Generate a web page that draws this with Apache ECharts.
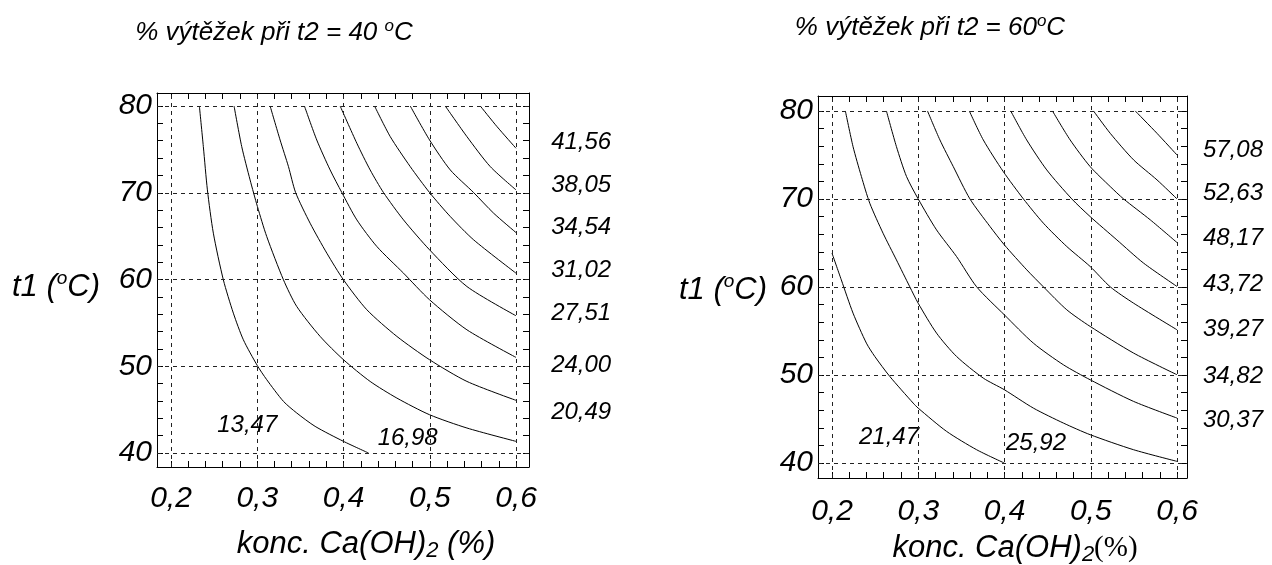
<!DOCTYPE html>
<html>
<head>
<meta charset="utf-8">
<script src="https://cdn.jsdelivr.net/npm/echarts@6.0.0/dist/echarts.min.js"></script>
<style>
html,body{margin:0;padding:0;background:#fff;}
#c{width:1272px;height:565px;}
</style>
</head>
<body>
<div id="c"></div>
<script>
// ---------- DATA ----------
const xTicks = [0.2, 0.3, 0.4, 0.5, 0.6];
const yTicks = [40, 50, 60, 70, 80];
const xMinor = [0.2,0.22,0.24,0.26,0.28,0.3,0.32,0.34,0.36,0.38,0.4,0.42,0.44,0.46,0.48,0.5,0.52,0.54,0.56,0.58,0.6];
const yMinor = [40,42,44,46,48,50,52,54,56,58,60,62,64,66,68,70,72,74,76,78,80];

// contour levels, t2 = 40 °C
const levels40 = [13.47, 16.98, 20.49, 24.00, 27.51, 31.02, 34.54, 38.05, 41.56];
const c40_1 = [[0.2329,80],[0.2375,75.32],[0.2422,70.33],[0.2491,65.34],[0.2607,59.96],[0.2723,56.12],[0.2839,53.05],[0.3002,50.06],[0.3110,48.45],[0.3304,45.95],[0.3458,44.61],[0.3671,43.07],[0.4000,41.34],[0.4290,40]];
const c40_2 = [[0.2731,80],[0.2820,75.32],[0.2917,71.48],[0.3002,68.41],[0.3110,64.95],[0.3304,59.96],[0.3458,56.89],[0.3729,53.44],[0.4000,50.75],[0.4309,48.25],[0.4619,46.33],[0.4998,44.41],[0.5431,42.88],[0.6,41.34]];
const c40_3 = [[0.3149,80],[0.3265,76.08],[0.3362,73.01],[0.3445,70.02],[0.3613,66.49],[0.3807,63.03],[0.4,59.96],[0.4271,56.51],[0.4619,53.44],[0.4998,50.75],[0.5431,48.25],[0.6,46.07]];
const c40_4 = [[0.3547,80],[0.3690,76.08],[0.3845,72.63],[0.3981,70.02],[0.4155,66.87],[0.4387,63.80],[0.4696,60.73],[0.4998,57.66],[0.5431,54.20],[0.6,51.02]];
const c40_5 = [[0.3961,80],[0.4155,75.70],[0.4309,72.63],[0.4464,70.02],[0.4696,66.87],[0.4998,63.42],[0.5431,59.19],[0.6,55.82]];
const c40_6 = [[0.4360,80],[0.4542,76.47],[0.4774,73.01],[0.4998,70.02],[0.5238,67.26],[0.5509,64.57],[0.6,60.73]];
const c40_7 = [[0.4774,80],[0.4998,76.08],[0.5238,72.63],[0.5509,70.02],[0.5741,67.64],[0.6,65.41]];
const c40_8 = [[0.5180,80],[0.5431,76.47],[0.5702,73.01],[0.6,70.33]];
const c40_9 = [[0.5586,80],[0.5780,77.62],[0.6,75.13]];

// contour levels, t2 = 60 °C
const levels60 = [21.47, 25.92, 30.37, 34.82, 39.27, 43.72, 48.17, 52.63, 57.08];
const c60_1 = [[0.2,63.84],[0.2108,60.81],[0.2244,57.03],[0.2399,53.62],[0.2496,52.11],[0.2670,49.84],[0.2941,46.81],[0.2999,46.24],[0.3328,43.60],[0.3677,41.51],[0.3998,40]];
const c60_2 = [[0.2155,80],[0.2244,75.95],[0.2341,72.55],[0.2438,69.52],[0.2592,66.11],[0.2747,63.08],[0.2902,60.02],[0.2999,58.16],[0.3212,54.76],[0.3444,52.11],[0.3754,49.65],[0.3998,48.33],[0.4335,46.24],[0.4683,44.54],[0.4993,43.22],[0.5497,41.51],[0.6,40.19]];
const c60_3 = [[0.2631,80],[0.2747,75.95],[0.2864,72.55],[0.2999,70.01],[0.3212,66.49],[0.3444,63.46],[0.3677,60.02],[0.3998,56.84],[0.4335,53.62],[0.4683,51.16],[0.4993,49.46],[0.5497,47.00],[0.6,45.11]];
const c60_4 = [[0.3107,80],[0.3251,76.71],[0.3406,73.68],[0.3599,70.01],[0.3832,66.87],[0.3998,64.79],[0.4258,61.95],[0.4451,60.02],[0.4722,57.41],[0.4993,55.52],[0.5497,52.49],[0.6,50.03]];
const c60_5 = [[0.3592,80],[0.3754,76.71],[0.3986,73.11],[0.4219,70.01],[0.4451,67.25],[0.4722,64.60],[0.4993,62.33],[0.5226,60.02],[0.5497,58.16],[0.6,55.14]];
const c60_6 = [[0.4072,80],[0.4257,76.71],[0.4490,73.30],[0.4780,70.01],[0.4993,68.00],[0.5303,65.35],[0.5613,62.71],[0.6,60.06]];
const c60_7 = [[0.4556,80],[0.4761,76.71],[0.4993,73.68],[0.5226,71.41],[0.5380,70.01],[0.5690,67.63],[0.6,65.05]];
const c60_8 = [[0.5032,80],[0.5226,77.46],[0.5497,74.44],[0.5768,72.17],[0.6,70.01]];
const c60_9 = [[0.5516,80],[0.5768,77.46],[0.6,75.0]];

// ---------- LAYOUT (label anchors, in axis units) ----------
const anchors40 = [[0.2884,43.23],[0.4744,41.73],[0.6407,44.73],[0.6407,50.14],[0.6407,56.14],[0.6407,61.10],[0.6407,66.05],[0.6407,70.89],[0.6407,75.85]];
const anchors60 = [[0.2661,42.95],[0.4365,42.27],[0.630,44.89],[0.630,49.89],[0.630,55.23],[0.630,60.34],[0.630,65.57],[0.630,70.68],[0.630,75.57]];

const curves40 = [c40_1,c40_2,c40_3,c40_4,c40_5,c40_6,c40_7,c40_8,c40_9];
const curves60 = [c60_1,c60_2,c60_3,c60_4,c60_5,c60_6,c60_7,c60_8,c60_9];

const FONT = '"Liberation Sans", Arial, sans-serif';
const SERIF = '"Liberation Serif", "Times New Roman", serif';
const fmtLevel = v => v.toFixed(2).replace('.', ',');

const grids = [
  {left:157, top:93, width:372, height:374},
  {left:818, top:96, width:369, height:382}
];
const ext = [
  {xmin:0.18377, xmax:0.61507, ymin:38.386, ymax:81.499},
  {xmin:0.18377, xmax:0.61159, ymin:38.30, ymax:81.70}
];

const xAxes = [], yAxes = [];
ext.forEach((e, g) => {
  ['bottom','top'].forEach(pos => {
    xAxes.push({
      gridIndex:g, type:'value', position:pos, min:e.xmin, max:e.xmax,
      axisLine:{show:true, onZero:false, lineStyle:{color:'#000', width:1}},
      axisTick:{show:true, inside:true, length:6, customValues:xMinor, lineStyle:{color:'#000', width:1}},
      axisLabel:{show:pos==='bottom', customValues:xTicks, margin:g === 0 ? 17 : 19,
        formatter:v => v.toFixed(1).replace('.', ','),
        color:'#000', fontSize:30, fontStyle:'italic', fontFamily:FONT},
      splitLine:{show:false}
    });
  });
  ['left','right'].forEach(pos => {
    yAxes.push({
      gridIndex:g, type:'value', position:pos, min:e.ymin, max:e.ymax,
      axisLine:{show:true, onZero:false, lineStyle:{color:'#000', width:1}},
      axisTick:{show:true, inside:true, length:6, customValues:yMinor, lineStyle:{color:'#000', width:1}},
      axisLabel:{show:pos==='left', customValues:yTicks, margin:5,
        formatter:v => String(v),
        color:'#000', fontSize:30, fontStyle:'italic', fontFamily:FONT},
      splitLine:{show:false}
    });
  });
});

const series = [];
[[curves40, levels40, anchors40], [curves60, levels60, anchors60]].forEach(([curves, levels, anchors], g) => {
  // dashed grid lines
  series.push({
    type:'line', xAxisIndex:g*2, yAxisIndex:g*2, data:[], silent:true,
    markLine:{silent:true, symbol:'none', animation:false, label:{show:false},
      lineStyle:{type:[4,4], color:'#222', width:1},
      data: xTicks.map(v => ({xAxis:v})).concat(yTicks.map(v => ({yAxis:v})))}
  });
  curves.forEach((c, i) => {
    series.push({
      type:'line', name:fmtLevel(levels[i]), xAxisIndex:g*2, yAxisIndex:g*2,
      data:c, showSymbol:false, symbol:'none', smooth:0.25, clip:false,
      lineStyle:{color:'#000', width:1}, silent:true
    });
  });
  series.push({
    type:'scatter', xAxisIndex:g*2, yAxisIndex:g*2, clip:false, symbolSize:0.1,
    itemStyle:{color:'#000', opacity:1}, silent:true,
    data: levels.map((v, i) => ({name:fmtLevel(v), value:anchors[i], label:{position: i < 2 ? 'inside' : 'right'}})),
    label:{show:true, formatter:'{b}', distance:0, color:'#000', opacity:1, fontSize:24, fontStyle:'italic', fontFamily:FONT}
  });
});

const richMain = (size) => ({fontSize:size, fontStyle:'italic', fontFamily:FONT, fill:'#000', lineHeight:size+4});
const supStyle = (size) => ({fontSize:size, fontStyle:'italic', fontFamily:FONT, fill:'#000', lineHeight:size, verticalAlign:'top'});
const subStyle = (size) => ({fontSize:size, fontStyle:'italic', fontFamily:FONT, fill:'#000', lineHeight:size, verticalAlign:'bottom'});
const graphic = [
  {type:'text', x:274, y:33, style:{text:'{a|% výtěžek při t2 = 40 }{s|o}{a|C}', align:'center', verticalAlign:'middle',
    rich:{a:richMain(26), s:supStyle(17)}}},
  {type:'text', x:930, y:28, style:{text:'{a|% výtěžek při t2 = 60}{s|o}{a|C}', align:'center', verticalAlign:'middle',
    rich:{a:richMain(26), s:supStyle(17)}}},
  {type:'text', x:366, y:544, style:{text:'{a|konc. Ca(OH)}{b|2}{a| (%)}', align:'center', verticalAlign:'middle',
    rich:{a:richMain(31), b:subStyle(22)}}},
  {type:'text', x:1015, y:548, style:{text:'{a|konc. Ca(OH)}{b|2}{c|(%)}', align:'center', verticalAlign:'middle',
    rich:{a:richMain(31), b:subStyle(22),
      c:{fontSize:29, fontFamily:SERIF, fill:'#000', lineHeight:33}}}},
  {type:'text', x:100, y:287, style:{text:'{a|t1 (}{s|o}{a|C)}', align:'right', verticalAlign:'middle',
    rich:{a:richMain(31), s:supStyle(19)}}},
  {type:'text', x:767, y:290, style:{text:'{a|t1 (}{s|o}{a|C)}', align:'right', verticalAlign:'middle',
    rich:{a:richMain(31), s:supStyle(19)}}}
];

const chart = echarts.init(document.getElementById('c'), null, {renderer:'canvas'});
chart.setOption({
  animation:false,
  backgroundColor:'#fff',
  grid:grids,
  xAxis:xAxes,
  yAxis:yAxes,
  series:series,
  graphic:graphic
});
</script>
</body>
</html>
